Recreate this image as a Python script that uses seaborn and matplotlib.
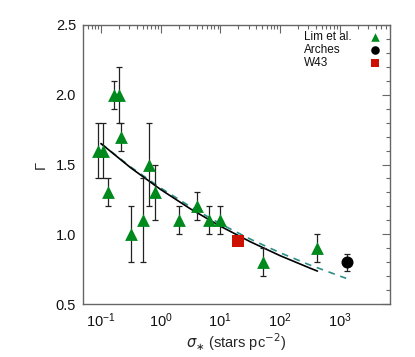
import matplotlib
matplotlib.use("Agg")
import matplotlib.pyplot as plt
import matplotlib.ticker as mticker
import seaborn as sns
import pandas as pd
import numpy as np

# --- data ---
lim_sigma = [0.09, 0.11, 0.13, 0.167, 0.2, 0.215, 0.316, 0.51, 0.64, 0.8, 2.0, 4.1, 6.5, 10.0, 52.0, 425.0]
lim_gamma = [1.6, 1.6, 1.3, 2.0, 2.0, 1.7, 1.0, 1.1, 1.5, 1.3, 1.1, 1.2, 1.1, 1.1, 0.8, 0.9]
lim_err = [0.2, 0.2, 0.1, 0.1, 0.2, 0.1, 0.2, 0.3, 0.3, 0.2, 0.1, 0.1, 0.1, 0.1, 0.1, 0.1]

arches_sigma = [1350.0]
arches_gamma = [0.8]
arches_err = [0.06]

w43_sigma = [19.5]
w43_gamma = [0.95]

fit_sigma = [0.1, 0.316, 1.0, 3.16, 10.0, 31.6, 100.0, 316.0, 425.0]
fit_gamma = [1.65, 1.476, 1.321, 1.182, 1.058, 0.947, 0.847, 0.758, 0.736]

fit2_sigma = [0.1, 0.316, 1.0, 3.16, 10.0, 31.6, 100.0, 316.0, 1000.0, 1290.0]
fit2_gamma = [1.65, 1.482, 1.332, 1.197, 1.075, 0.966, 0.868, 0.780, 0.701, 0.684]

legend_labels = ["Lim et al.", "Arches", "W43"]

xlim = (0.05, 7000)
ylim = (0.5, 2.5)
yticks = [0.5, 1.0, 1.5, 2.0, 2.5]

sns.set_style("white")
plt.rcParams['font.family'] = ['Liberation Sans', 'DejaVu Sans']
plt.rcParams['mathtext.fontset'] = 'dejavusans'

fig = plt.figure(figsize=(4.15, 3.57), dpi=100)
ax = fig.add_axes([83/415, 1 - 304/357, (390 - 83)/415, (304 - 25)/357])

green = "#008a1e"
red = "#cc1100"
teal = "#2a8f86"

# fit curves
sns.lineplot(x=fit2_sigma, y=fit2_gamma, ax=ax, color=teal, lw=1.2,
             linestyle=(0, (4, 3.5)), sort=False, legend=False, zorder=2)
sns.lineplot(x=fit_sigma, y=fit_gamma, ax=ax, color="black", lw=1.2,
             sort=False, legend=False, zorder=3)

# error bars
ax.errorbar(lim_sigma, lim_gamma, yerr=lim_err, fmt='none', ecolor='#222222',
            elinewidth=0.9, capsize=2, capthick=0.9, zorder=4)
ax.errorbar(arches_sigma, arches_gamma, yerr=arches_err, fmt='none', ecolor='#222222',
            elinewidth=0.9, capsize=2, capthick=0.9, zorder=4)

df_lim = pd.DataFrame({"sigma": lim_sigma, "gamma": lim_gamma})
sns.scatterplot(data=df_lim, x="sigma", y="gamma", ax=ax, marker="^", s=85,
                color=green, edgecolor=green, linewidth=0, zorder=5, legend=False)
sns.scatterplot(x=arches_sigma, y=arches_gamma, ax=ax, marker="o", s=75,
                color="black", edgecolor="black", linewidth=0, zorder=5, legend=False)
sns.scatterplot(x=w43_sigma, y=w43_gamma, ax=ax, marker="s", s=70,
                color=red, edgecolor=red, linewidth=0, zorder=5, legend=False)

# legend (text left-aligned, marker on the right, as in the reference)
leg_markers = ["^", "o", "s"]
leg_colors = [green, "black", red]
tx = (304 - 83) / 307
mx = (375 - 83) / 307
for i, (lab, mk, c) in enumerate(zip(legend_labels, leg_markers, leg_colors)):
    yy = 1 - (12 + 13 * i) / 279
    ax.text(tx, yy, lab, transform=ax.transAxes, fontsize=8.5, ha="left", va="center",
            color="#111111")
    ax.scatter([mx], [yy], transform=ax.transAxes, marker=mk, s=38, color=c,
               linewidths=0, clip_on=False, zorder=6)

ax.set_xscale("log")
ax.set_xlim(*xlim)
ax.set_ylim(*ylim)
ax.set_yticks(yticks)
ax.yaxis.set_major_formatter(mticker.FormatStrFormatter('%.1f'))
ax.yaxis.set_minor_locator(mticker.MultipleLocator(0.1))
ax.xaxis.set_major_locator(mticker.LogLocator(base=10, numticks=10))
ax.xaxis.set_minor_locator(mticker.LogLocator(base=10, subs=np.arange(2, 10), numticks=20))
ax.xaxis.set_minor_formatter(mticker.NullFormatter())

spine_c = "#666666"
for s in ax.spines.values():
    s.set_color(spine_c)
    s.set_linewidth(1.0)
ax.tick_params(which='both', direction='in', top=True, right=True, color=spine_c,
               labelsize=10.5, labelcolor='#111111')
ax.tick_params(which='major', length=6, width=0.8, pad=5)
ax.tick_params(which='minor', length=3, width=0.8)

ax.set_xlabel(r"$\sigma_{\ast}$ (stars pc$^{-2}$)", fontsize=10.5, labelpad=1)
ax.set_ylabel("Γ", fontsize=10.5, labelpad=6)

fig.savefig("out.png", dpi=100)
